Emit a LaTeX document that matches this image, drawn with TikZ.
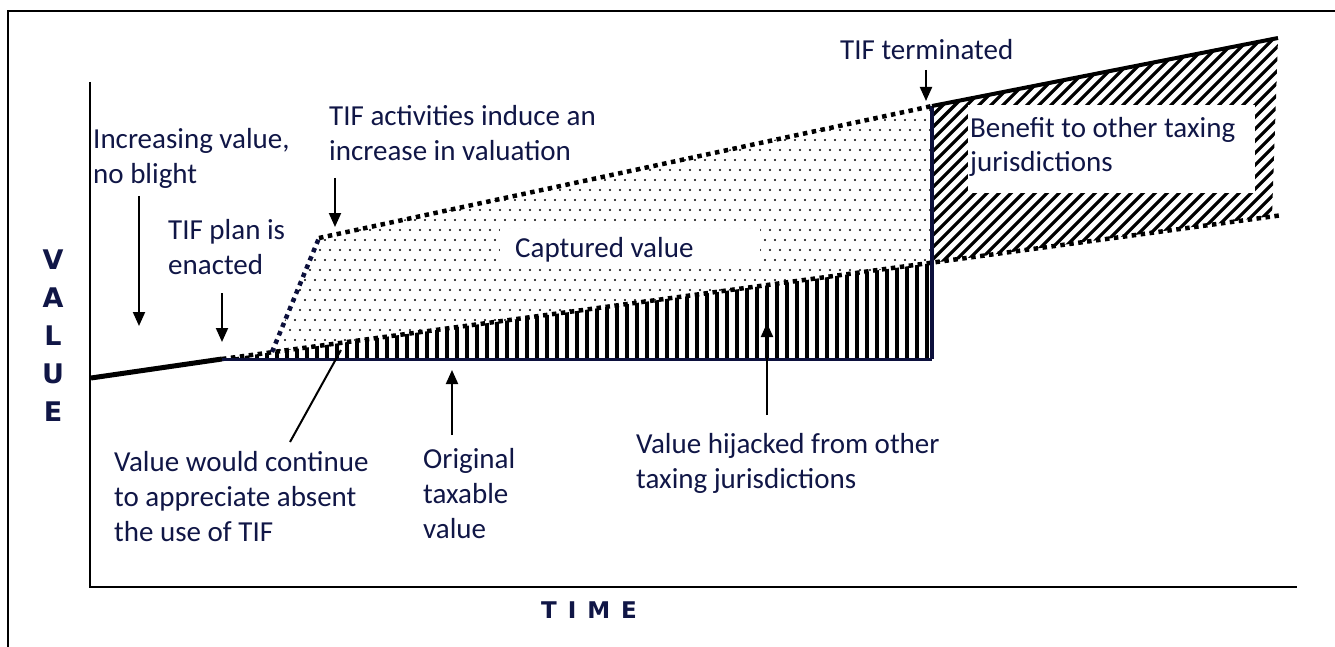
\documentclass[tikz,border=0pt]{standalone}
\usepackage{fontspec}
\setmainfont{Carlito}
\newfontfamily\axisfont{DejaVu Sans}
\usetikzlibrary{arrows.meta}
\definecolor{navy}{RGB}{16,22,70}
\definecolor{linenavy}{RGB}{12,16,60}
\tikzset{
  lbl/.style={anchor=base west, inner sep=0pt, align=left, text=navy,
    font=\fontsize{29}{35}\selectfont},
  axislbl/.style={inner sep=0pt, align=center, text=navy,
    font=\axisfont\bfseries\fontsize{27}{38}\selectfont},
  arr/.style={line width=2pt, -{Triangle[width=12pt,length=14pt]}},
  dotline/.style={line width=4.5pt, dash pattern=on 4.5pt off 4.5pt},
  bar/.style={line width=4.5pt},
  diag/.style={line width=3.2pt},
}
\begin{document}
\begin{tikzpicture}[x=1pt,y=-1pt]
\useasboundingbox (0,0) rectangle (1335,647);
% outer frame (cut by the page at right and bottom)
\draw[line width=2pt] (8,700) -- (8,11) -- (1400,11);
% axes
\draw[line width=2.5pt] (90,82) -- (90,587) -- (1297,587);

% key points
\coordinate (s0) at (91,378);
\coordinate (s1) at (222,359);
\coordinate (k0) at (272,352);
\coordinate (k1) at (319,238);
\coordinate (ttop) at (932,106);
\coordinate (tlow) at (932,263);
\coordinate (tbase) at (932,359);
\coordinate (tr) at (1278,38);
\coordinate (hr) at (1272,216);
\coordinate (lr) at (1283,215);

% captured value: dots
\begin{scope}
\clip (s1) -- (k0) -- (k1) -- (ttop) -- (tlow) -- cycle;
\foreach \yy in {100,120,...,360}{
  \foreach \xx in {225,235,...,935}{\fill (\xx,\yy) circle[radius=1.2pt];}}
\foreach \yy in {110,130,...,360}{
  \foreach \xx in {230,240,...,935}{\fill (\xx,\yy) circle[radius=1.2pt];}}
\end{scope}
\fill[white] (500,229) rectangle (760,266);

% hijacked value: vertical bars
\begin{scope}
\clip (s1) -- (tlow) -- (tbase) -- cycle;
\foreach \xx in {227,237,...,927}{\draw[bar] (\xx,250) -- (\xx,362);}
\end{scope}

% benefit: diagonal hatching
\begin{scope}
\clip (ttop) -- (tr) -- (hr) -- (tlow) -- cycle;
\foreach \xx in {640,652,...,1300}{\draw[diag] (\xx,300) -- ++(300,-300);}
\end{scope}
\fill[white] (968,105) rectangle (1255,193);

% value lines
\draw[line width=5pt] (s0) -- (s1);
\draw[dotline] (s1) -- (lr);
\draw[dotline, draw=linenavy] (k0) -- (k1);
\draw[dotline] (k1) -- (ttop);
\draw[line width=3pt, draw=linenavy] (s1) -- (tbase);
\draw[line width=4pt, draw=linenavy] (tbase) -- (ttop);
\draw[line width=4pt] (ttop) -- (tr);

% axis labels
\node[axislbl] (yl) at (53,336) {V\\A\\L\\U\\E};
\node[axislbl, font=\axisfont\bfseries\fontsize{23}{28}\selectfont] (xl) at (589,610.5) {T\hspace{11pt}I\hspace{11pt}M\hspace{11pt}E};

% labels (base anchor = baseline of last line)
\node[lbl] (incr) at (93,184) {Increasing value,\\no blight};
\node[lbl] (plan) at (168,274) {TIF plan is\\enacted};
\node[lbl] (act) at (329,161) {TIF activities induce an\\increase in valuation};
\node[lbl] (capt) at (515,257) {Captured value};
\node[lbl] (term) at (840,60) {TIF terminated};
\node[lbl] (bene) at (970,172) {Benefit to other taxing\\jurisdictions};
\node[lbl] (cont) at (114,541) {Value would continue\\to appreciate absent\\the use of TIF};
\node[lbl] (orig) at (423,538) {Original\\taxable\\value};
\node[lbl] (hija) at (636,488) {Value hijacked from other\\taxing jurisdictions};

% pointers
\coordinate (a1s) at (139,196); \coordinate (a1e) at (139,326);
\coordinate (a2s) at (222,293); \coordinate (a2e) at (222,342);
\coordinate (a3s) at (335,178); \coordinate (a3e) at (335,227);
\coordinate (a4s) at (926,70);  \coordinate (a4e) at (926,101);
\coordinate (a5s) at (452,435); \coordinate (a5e) at (452,370);
\coordinate (a6s) at (767,415); \coordinate (a6e) at (767,323);
\coordinate (a7s) at (290,442); \coordinate (a7e) at (341,350);
\draw[arr] (a1s) -- (a1e);
\draw[arr] (a2s) -- (a2e);
\draw[arr] (a3s) -- (a3e);
\draw[arr] (a4s) -- (a4e);
\draw[arr] (a5s) -- (a5e);
\draw[arr] (a6s) -- (a6e);
\draw[line width=2pt] (a7s) -- (a7e);
\end{tikzpicture}
\end{document}
